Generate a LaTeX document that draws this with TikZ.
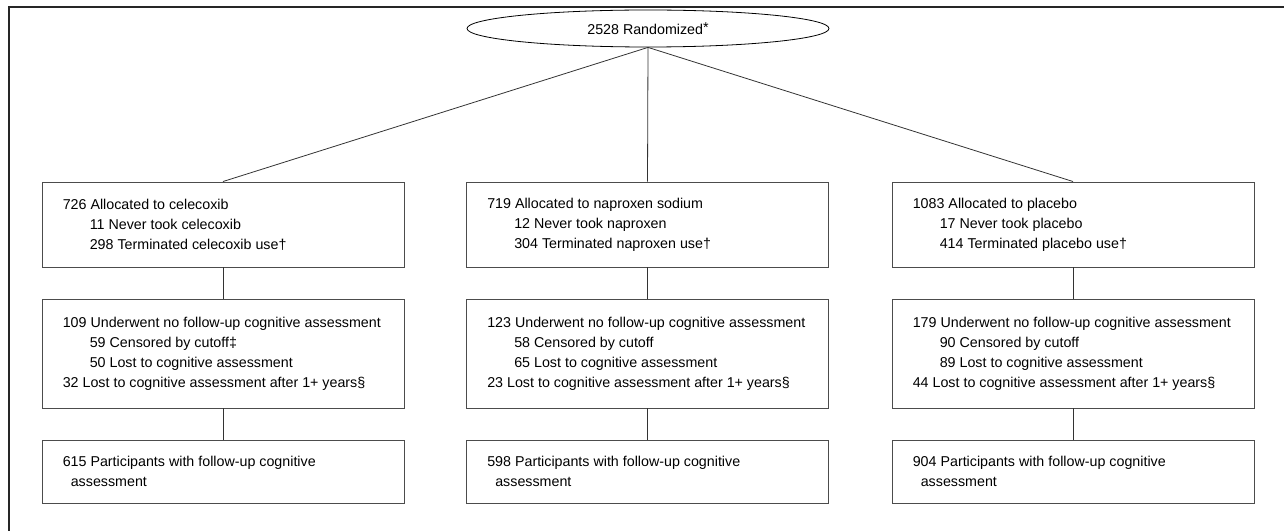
\documentclass[tikz,border=0pt]{standalone}
\usepackage{fontspec}
\setmainfont{Liberation Sans}
\usetikzlibrary{shapes.geometric,positioning}

\newcommand{\ind}{\hspace*{20.25pt}}

\begin{document}
\begin{tikzpicture}[x=0.75pt,y=-0.75pt,
  flowbox/.style={draw=black!70,line width=0.7pt,minimum width=271.5pt,inner sep=0pt},
  flowtext/.style={align=left,inner sep=0pt,font=\fontsize{10.7}{15}\selectfont},
  link/.style={draw=black!80,line width=0.6pt}]
\useasboundingbox (0,0) rectangle (1284,531);
% outer frame
\draw[line width=1.1pt,black!85] (1284,7) -| (9,531);

\node[draw,ellipse,line width=0.6pt,minimum width=271.5pt,minimum height=27.75pt,inner sep=0pt,
  font=\fontsize{10.7}{13}\selectfont] (rand) at (648,28.5) {2528 Randomized\raisebox{1.5pt}{*}};

% allocation
\node[flowbox,minimum height=63.75pt] (cel1) at (223,224.5) {};
\node[flowbox,minimum height=63.75pt] (nap1) at (647.5,224.5) {};
\node[flowbox,minimum height=63.75pt] (pla1) at (1073,224.5) {};
\node[flowtext,right=15.75pt of cel1.west] (cel1t) {726 Allocated to celecoxib\\
  \ind 11 Never took celecoxib\\ \ind 298 Terminated celecoxib use†};
\node[flowtext,right=15.75pt of nap1.west] (nap1t) {719 Allocated to naproxen sodium\\
  \ind 12 Never took naproxen\\ \ind 304 Terminated naproxen use†};
\node[flowtext,right=15.75pt of pla1.west] (pla1t) {1083 Allocated to placebo\\
  \ind 17 Never took placebo\\ \ind 414 Terminated placebo use†};

% follow-up
\node[flowbox,minimum height=81.75pt] (cel2) at (223,353.5) {};
\node[flowbox,minimum height=81.75pt] (nap2) at (647.5,353.5) {};
\node[flowbox,minimum height=81.75pt] (pla2) at (1073,353.5) {};
\node[flowtext,right=15.75pt of cel2.west] (cel2t) {109 Underwent no follow-up cognitive assessment\\
  \ind 59 Censored by cutoff‡\\ \ind 50 Lost to cognitive assessment\\
  32 Lost to cognitive assessment after 1+ years§};
\node[flowtext,right=15.75pt of nap2.west] (nap2t) {123 Underwent no follow-up cognitive assessment\\
  \ind 58 Censored by cutoff\\ \ind 65 Lost to cognitive assessment\\
  23 Lost to cognitive assessment after 1+ years§};
\node[flowtext,right=15.75pt of pla2.west] (pla2t) {179 Underwent no follow-up cognitive assessment\\
  \ind 90 Censored by cutoff\\ \ind 89 Lost to cognitive assessment\\
  44 Lost to cognitive assessment after 1+ years§};

% analysed
\node[flowbox,minimum height=47.25pt] (cel3) at (223,471.5) {};
\node[flowbox,minimum height=47.25pt] (nap3) at (647.5,471.5) {};
\node[flowbox,minimum height=47.25pt] (pla3) at (1073,471.5) {};
\node[flowtext,right=15.75pt of cel3.west] (cel3t) {615 Participants with follow-up cognitive\\
  \hspace*{6pt}assessment};
\node[flowtext,right=15.75pt of nap3.west] (nap3t) {598 Participants with follow-up cognitive\\
  \hspace*{6pt}assessment};
\node[flowtext,right=15.75pt of pla3.west] (pla3t) {904 Participants with follow-up cognitive\\
  \hspace*{6pt}assessment};

\path[link] (rand.south) edge (cel1.north)
  (rand.south) edge (nap1.north)
  (rand.south) edge (pla1.north);
\foreach \g in {cel,nap,pla}{
  \draw[link] (\g1) -- (\g2);
  \draw[link] (\g2) -- (\g3);
}
\end{tikzpicture}
\end{document}
